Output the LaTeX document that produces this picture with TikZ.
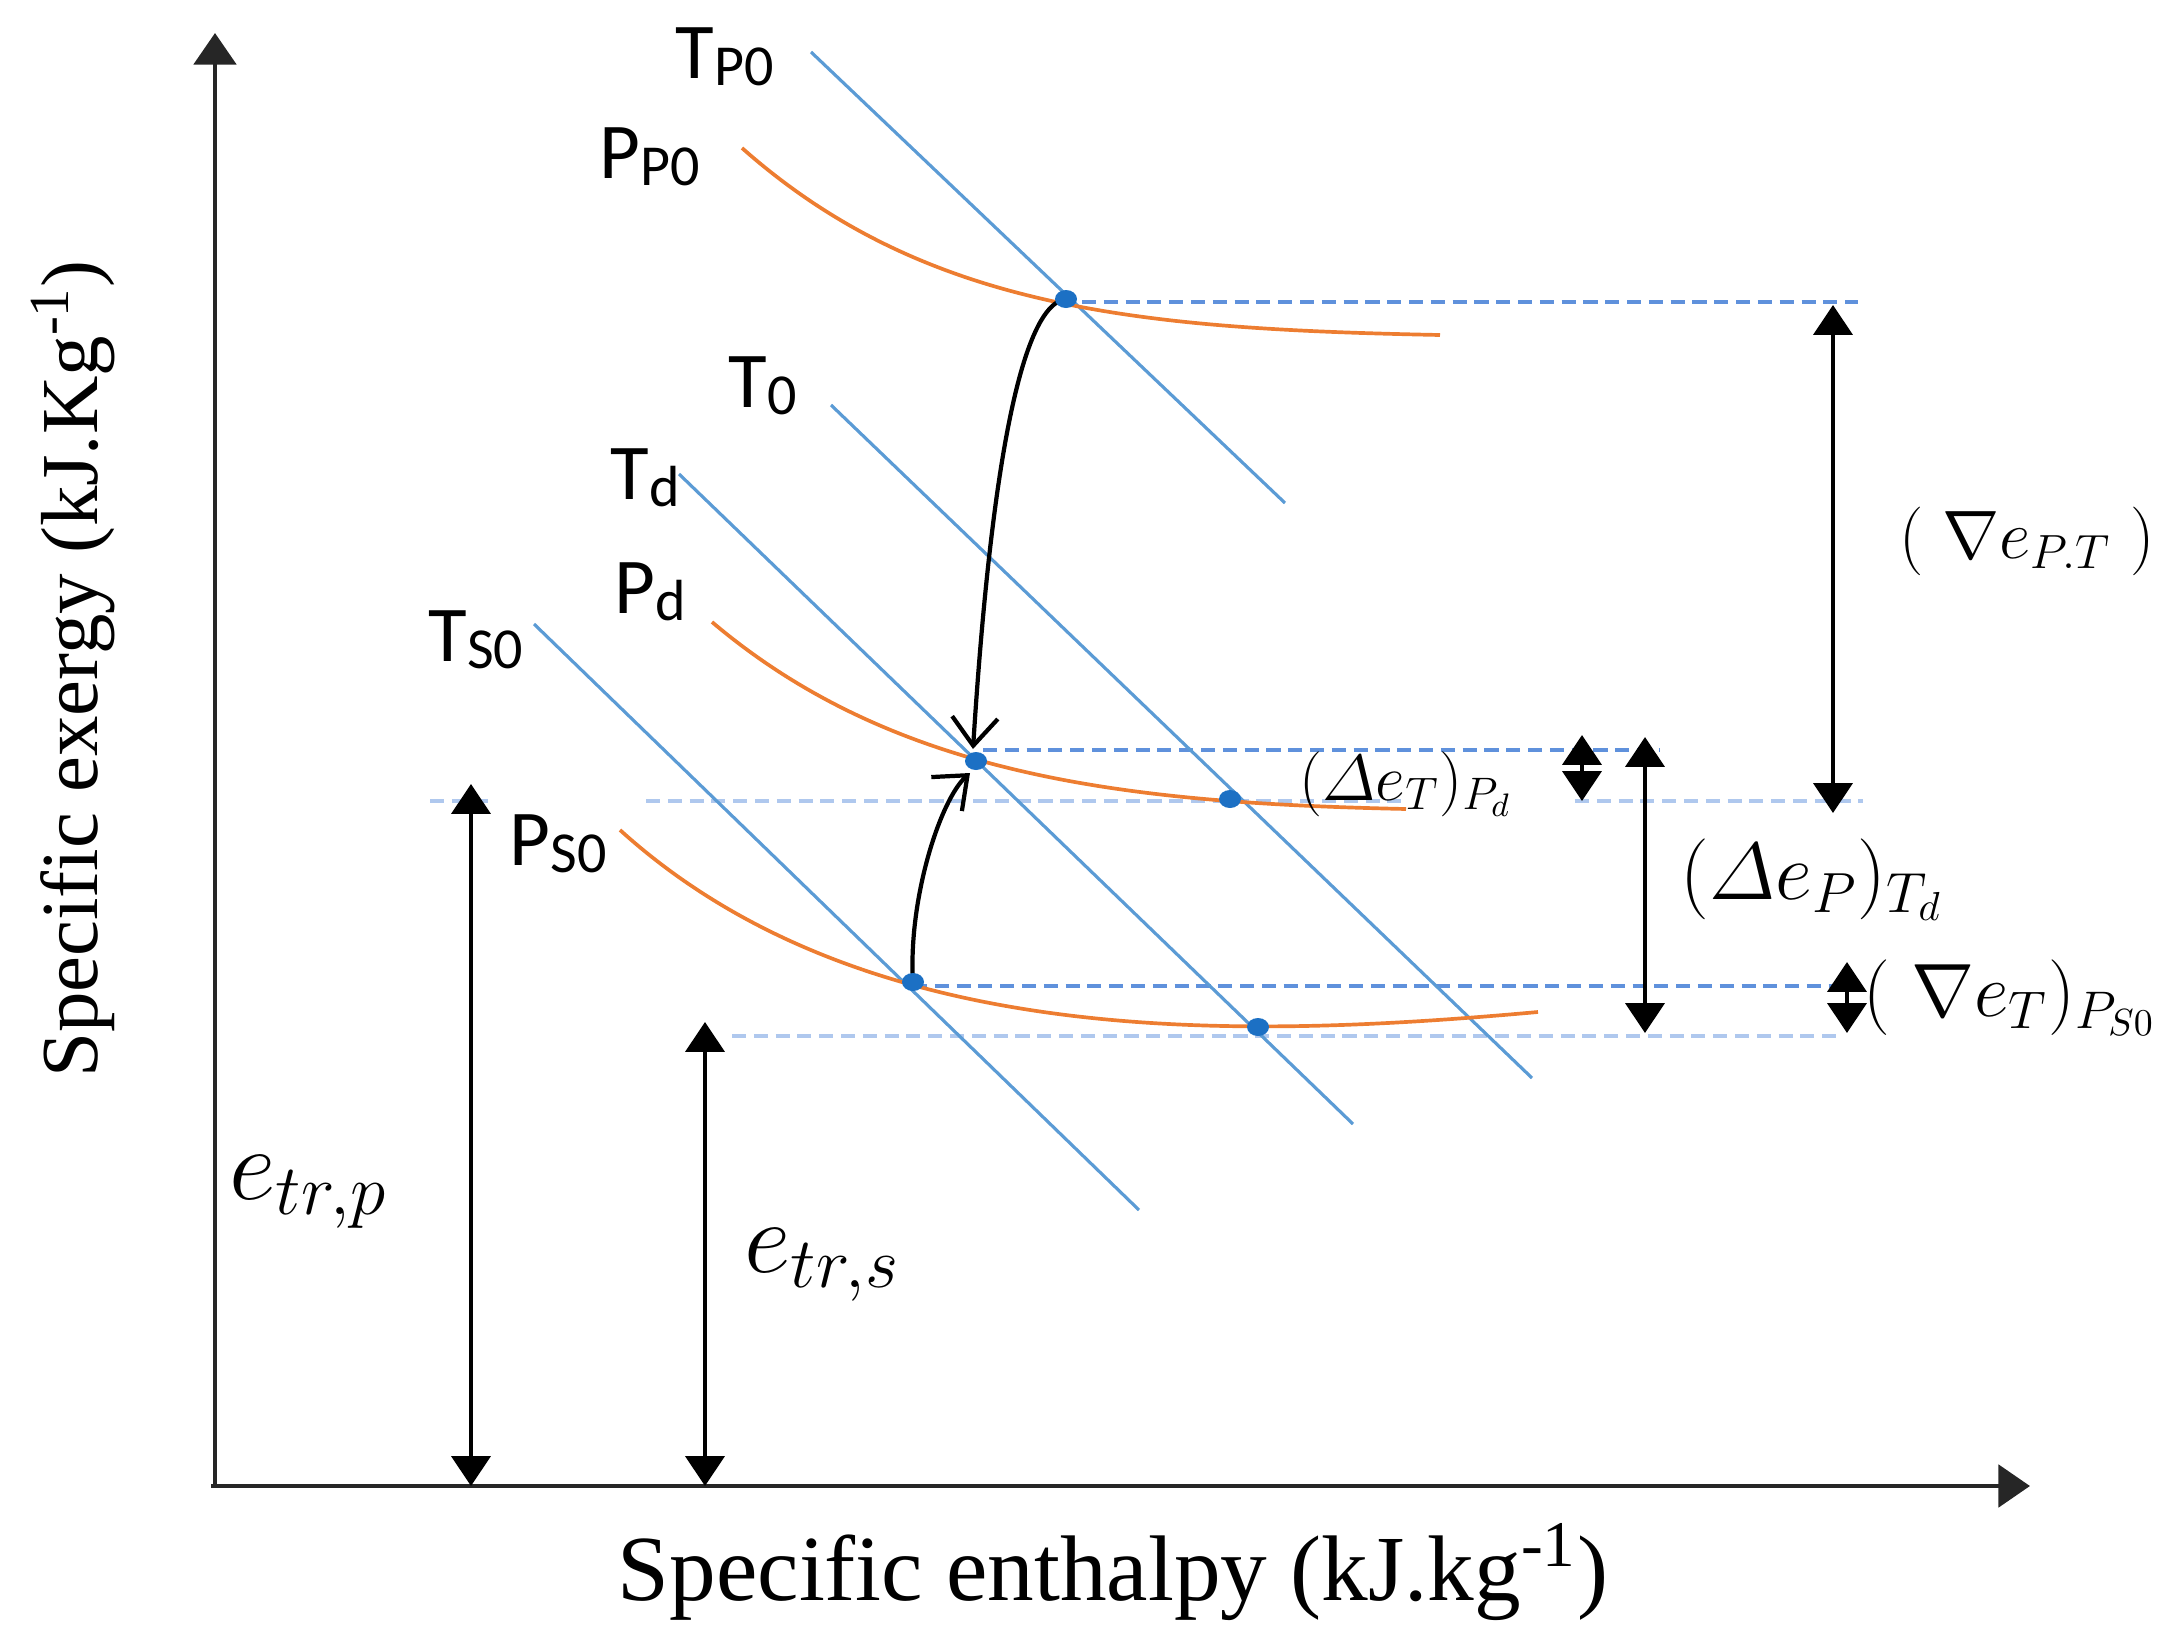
\RequirePackage{fix-cm}
\documentclass[tikz,border=0pt]{standalone}
\usepackage{amsmath}
\usepackage{fontspec}
\setmainfont{Liberation Serif}
\newfontfamily\calibri{Carlito}
\usepackage{tikz}
\usetikzlibrary{arrows.meta}

\definecolor{isoT}{RGB}{91,155,213}
\definecolor{isoP}{RGB}{237,125,49}
\definecolor{etatc}{RGB}{28,112,196}
\definecolor{guideD}{RGB}{95,145,220}
\definecolor{guideL}{RGB}{175,200,238}

\newcommand{\isolab}[2]{#1\raisebox{-2pt}{\fontsize{16.5}{18}\selectfont #2}}

\tikzset{
  isotherm/.style={draw=isoT, line width=0.9pt},
  isobar/.style={draw=isoP, line width=1.05pt},
  guide/.style={dash pattern=on 4pt off 2.2pt, line width=1.1pt},
  cote/.style={{Triangle[length=8.5pt,width=11pt]}-{Triangle[length=8.5pt,width=11pt]}, line width=1.4pt},
  trajet/.style={-{Straight Barb[length=8pt,width=13pt]}, line width=1.2pt},
  axe/.style={-{Triangle[length=9pt,width=12pt]}, line width=1.4pt, black!85},
  isolabel/.style={font=\calibri\fontsize{22.5}{24}\selectfont, anchor=base west, inner sep=0pt},
}

\begin{document}
\begin{tikzpicture}[x=0.01cm, y=-0.01cm]
	\useasboundingbox (0,0) rectangle (2174,1639);

	\coordinate (O) at (215,1486);
	\coordinate (ymax) at (215,33);
	\coordinate (xmax) at (2030,1486);
	\coordinate (A) at (1066,299);
	\coordinate (D) at (976,761);
	\coordinate (B) at (1230,799);
	\coordinate (S) at (913,982);
	\coordinate (E) at (1258,1027);
	\coordinate (Dtop) at (973,749);
	\coordinate (Dbot) at (970,773);

	% axes
	\draw[axe] (O) -- (ymax);
	\draw[axe] (211,1486) -- (xmax);
	\node[rotate=90, font=\fontsize{23}{26}\selectfont] (ylab) at (73,669) {Specific exergy (kJ.Kg\textsuperscript{-1})};
	\node[font=\fontsize{26.5}{29}\selectfont] (xlab) at (1113,1572) {Specific enthalpy (kJ.kg\textsuperscript{-1})};

	% lignes de niveau
	\draw[guide, guideD] (1082,302) -- (1858,302);
	\draw[guide, guideD] (983,750) -- (1660,750);
	\draw[guide, guideL] (430,801) -- (489,801);
	\draw[guide, guideL] (646,801) -- (1404,801);
	\draw[guide, guideL] (1575,801) -- (1863,801);
	\draw[guide, guideD] (913,986) -- (1840,986);
	\draw[guide, guideL] (732,1036) -- (1840,1036);

	\draw[isotherm] (811,52) -- (1285,503);
	\draw[isotherm] (831,405) -- (1532,1078);
	\draw[isotherm] (679,474) -- (1353,1124);
	\draw[isotherm] (534,624) -- (1139,1210);

	\draw[isobar] (742,148) .. controls (925,310) and (1140,329) .. (1440,335);
	\draw[isobar] (712,622) .. controls (895,777) and (1126,803) .. (1406,809);
	\draw[isobar] (620,830) .. controls (864,1051) and (1238,1039) .. (1538,1012);

	\node[isolabel] (TP0) at (675,78) {\isolab{T}{P0}};
	\node[isolabel] (PP0) at (599,178) {\isolab{P}{P0}};
	\node[isolabel] (T0) at (728,407) {\isolab{T}{0}};
	\node[isolabel] (Td) at (610,499) {\isolab{T}{d}};
	\node[isolabel] (Pd) at (614,613) {\isolab{P}{d}};
	\node[isolabel] (TS0) at (428,661) {\isolab{T}{S0}};
	\node[isolabel] (PS0) at (509,865) {\isolab{P}{S0}};

	\draw[trajet] (A) .. controls (1010,306) and (985,560) .. (Dtop);
	\draw[trajet] (S) .. controls (908,900) and (940,800) .. (Dbot);
	\foreach \p in {A,D,B,S,E}
		\fill[etatc] (\p) ellipse (11 and 9);

	\draw[cote] (1833,305) -- (1833,813);
	\draw[cote] (1582,735) -- (1582,801);
	\draw[cote] (1645,737) -- (1645,1033);
	\draw[cote] (1847,962) -- (1847,1033);
	\draw[cote] (471,784) -- (O -| 471,0);
	\draw[cote] (705,1022) -- (O -| 705,0);

	\node[font=\fontsize{19.5}{22}\selectfont] (dPT) at (2027,541) {$(\;\nabla e_{P.T}\;)$};
	\node[font=\fontsize{18.5}{21}\selectfont] (dTPd) at (1406,784) {$(\varDelta e_T)_{P_d}$};
	\node[font=\fontsize{23}{26}\selectfont] (dPTd) at (1812,880) {$(\varDelta e_P)_{T_d}$};
	\node[font=\fontsize{21.5}{24}\selectfont] (dTPs) at (2010,998) {$(\;\nabla e_T)_{P_{S0}}$};
	\node[font=\fontsize{29}{31}\selectfont, anchor=base west, inner sep=0pt] (etrp) at (229,1199) {$e_{tr,p}$};
	\node[font=\fontsize{29}{31}\selectfont, anchor=base west, inner sep=0pt] (etrs) at (744,1272) {$e_{tr,s}$};
\end{tikzpicture}
\end{document}
